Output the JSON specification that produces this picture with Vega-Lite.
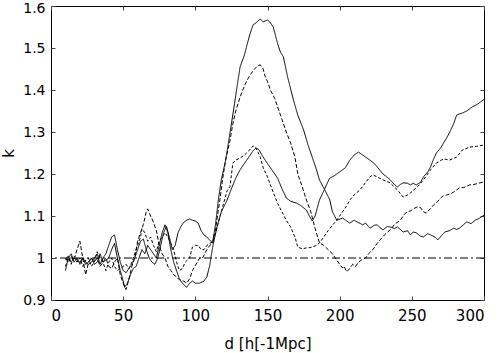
{
  "$schema": "https://vega.github.io/schema/vega-lite/v6.json",
  "width": 433,
  "height": 294,
  "autosize": {"type": "none"},
  "padding": {"left": 51, "top": 6, "right": 15, "bottom": 53},
  "background": "white",
  "config": {
    "view": {"stroke": "black", "strokeWidth": 1},
    "axis": {
      "grid": false,
      "domain": false,
      "tickSize": -4,
      "tickColor": "#444",
      "labelFont": "DejaVu Sans",
      "labelFontSize": 15,
      "labelColor": "black",
      "titleFont": "DejaVu Sans",
      "titleFontSize": 15,
      "titleFontWeight": "normal",
      "titleColor": "black"
    }
  },
  "datasets": {
    "curves": [
      {"series":"s1","d":10,"k":0.97},{"series":"s1","d":12,"k":1.0},{"series":"s1","d":14,"k":1.01},{"series":"s1","d":16,"k":0.99},{"series":"s1","d":18,"k":1.0},{"series":"s1","d":20,"k":0.985},{"series":"s1","d":22,"k":1.0},{"series":"s1","d":24,"k":0.99},{"series":"s1","d":26,"k":0.985},{"series":"s1","d":28,"k":0.99},{"series":"s1","d":30,"k":1.0},{"series":"s1","d":32,"k":1.01},{"series":"s1","d":34,"k":0.985},{"series":"s1","d":36,"k":1.0},{"series":"s1","d":38,"k":1.01},{"series":"s1","d":40,"k":1.03},{"series":"s1","d":42,"k":1.05},{"series":"s1","d":44,"k":1.055},{"series":"s1","d":46,"k":1.02},{"series":"s1","d":48,"k":0.99},{"series":"s1","d":50,"k":0.97},{"series":"s1","d":52,"k":0.965},{"series":"s1","d":54,"k":0.975},{"series":"s1","d":56,"k":0.985},{"series":"s1","d":58,"k":1.0},{"series":"s1","d":60,"k":1.02},{"series":"s1","d":62,"k":1.04},{"series":"s1","d":64,"k":1.045},{"series":"s1","d":66,"k":1.02},{"series":"s1","d":68,"k":1.0},{"series":"s1","d":70,"k":0.99},{"series":"s1","d":72,"k":0.985},{"series":"s1","d":74,"k":1.0},{"series":"s1","d":76,"k":1.03},{"series":"s1","d":78,"k":1.06},{"series":"s1","d":80,"k":1.075},{"series":"s1","d":82,"k":1.05},{"series":"s1","d":84,"k":1.02},{"series":"s1","d":86,"k":1.03},{"series":"s1","d":88,"k":1.06},{"series":"s1","d":90,"k":1.075},{"series":"s1","d":92,"k":1.085},{"series":"s1","d":94,"k":1.09},{"series":"s1","d":96,"k":1.093},{"series":"s1","d":98,"k":1.09},{"series":"s1","d":100,"k":1.088},{"series":"s1","d":102,"k":1.083},{"series":"s1","d":104,"k":1.065},{"series":"s1","d":106,"k":1.055},{"series":"s1","d":108,"k":1.05},{"series":"s1","d":110,"k":1.042},{"series":"s1","d":112,"k":1.038},{"series":"s1","d":114,"k":1.08},{"series":"s1","d":116,"k":1.14},{"series":"s1","d":118,"k":1.186},{"series":"s1","d":121,"k":1.233},{"series":"s1","d":124,"k":1.297},{"series":"s1","d":127,"k":1.364},{"series":"s1","d":129,"k":1.41},{"series":"s1","d":131,"k":1.455},{"series":"s1","d":134,"k":1.483},{"series":"s1","d":136,"k":1.51},{"series":"s1","d":138,"k":1.535},{"series":"s1","d":140,"k":1.555},{"series":"s1","d":142,"k":1.56},{"series":"s1","d":145,"k":1.569},{"series":"s1","d":147,"k":1.562},{"series":"s1","d":150,"k":1.567},{"series":"s1","d":152,"k":1.56},{"series":"s1","d":154,"k":1.55},{"series":"s1","d":157,"k":1.51},{"series":"s1","d":159,"k":1.49},{"series":"s1","d":161,"k":1.479},{"series":"s1","d":164,"k":1.43},{"series":"s1","d":168,"k":1.376},{"series":"s1","d":171,"k":1.34},{"series":"s1","d":175,"k":1.305},{"series":"s1","d":178,"k":1.27},{"series":"s1","d":181,"k":1.24},{"series":"s1","d":184,"k":1.21},{"series":"s1","d":186,"k":1.186},{"series":"s1","d":190,"k":1.16},{"series":"s1","d":193,"k":1.14},{"series":"s1","d":195,"k":1.11},{"series":"s1","d":198,"k":1.09},{"series":"s1","d":202,"k":1.095},{"series":"s1","d":205,"k":1.088},{"series":"s1","d":207,"k":1.083},{"series":"s1","d":210,"k":1.09},{"series":"s1","d":212,"k":1.086},{"series":"s1","d":216,"k":1.079},{"series":"s1","d":218,"k":1.083},{"series":"s1","d":221,"k":1.071},{"series":"s1","d":224,"k":1.078},{"series":"s1","d":226,"k":1.079},{"series":"s1","d":228,"k":1.072},{"series":"s1","d":230,"k":1.067},{"series":"s1","d":233,"k":1.075},{"series":"s1","d":235,"k":1.074},{"series":"s1","d":238,"k":1.07},{"series":"s1","d":240,"k":1.074},{"series":"s1","d":242,"k":1.068},{"series":"s1","d":244,"k":1.062},{"series":"s1","d":247,"k":1.065},{"series":"s1","d":249,"k":1.055},{"series":"s1","d":251,"k":1.062},{"series":"s1","d":253,"k":1.06},{"series":"s1","d":256,"k":1.052},{"series":"s1","d":258,"k":1.05},{"series":"s1","d":261,"k":1.058},{"series":"s1","d":263,"k":1.055},{"series":"s1","d":266,"k":1.05},{"series":"s1","d":268,"k":1.043},{"series":"s1","d":271,"k":1.055},{"series":"s1","d":273,"k":1.062},{"series":"s1","d":276,"k":1.065},{"series":"s1","d":279,"k":1.071},{"series":"s1","d":281,"k":1.068},{"series":"s1","d":283,"k":1.071},{"series":"s1","d":286,"k":1.08},{"series":"s1","d":288,"k":1.086},{"series":"s1","d":291,"k":1.082},{"series":"s1","d":294,"k":1.09},{"series":"s1","d":297,"k":1.095},{"series":"s1","d":300,"k":1.102},

      {"series":"s2","d":10,"k":0.995},{"series":"s2","d":12,"k":1.005},{"series":"s2","d":14,"k":0.99},{"series":"s2","d":16,"k":1.0},{"series":"s2","d":18,"k":0.995},{"series":"s2","d":20,"k":0.99},{"series":"s2","d":22,"k":1.0},{"series":"s2","d":24,"k":0.985},{"series":"s2","d":26,"k":0.99},{"series":"s2","d":28,"k":1.0},{"series":"s2","d":30,"k":0.985},{"series":"s2","d":32,"k":0.99},{"series":"s2","d":34,"k":1.01},{"series":"s2","d":36,"k":0.99},{"series":"s2","d":38,"k":0.995},{"series":"s2","d":40,"k":1.0},{"series":"s2","d":42,"k":1.02},{"series":"s2","d":44,"k":1.035},{"series":"s2","d":46,"k":1.0},{"series":"s2","d":48,"k":0.97},{"series":"s2","d":50,"k":0.945},{"series":"s2","d":51,"k":0.93},{"series":"s2","d":53,"k":0.94},{"series":"s2","d":55,"k":0.96},{"series":"s2","d":57,"k":0.975},{"series":"s2","d":59,"k":0.98},{"series":"s2","d":61,"k":1.0},{"series":"s2","d":63,"k":1.02},{"series":"s2","d":65,"k":1.01},{"series":"s2","d":67,"k":1.03},{"series":"s2","d":69,"k":1.02},{"series":"s2","d":71,"k":1.01},{"series":"s2","d":73,"k":1.0},{"series":"s2","d":75,"k":1.03},{"series":"s2","d":77,"k":1.06},{"series":"s2","d":79,"k":1.079},{"series":"s2","d":81,"k":1.06},{"series":"s2","d":83,"k":1.02},{"series":"s2","d":85,"k":0.99},{"series":"s2","d":87,"k":0.97},{"series":"s2","d":89,"k":0.95},{"series":"s2","d":91,"k":0.94},{"series":"s2","d":94,"k":0.93},{"series":"s2","d":96,"k":0.94},{"series":"s2","d":98,"k":0.945},{"series":"s2","d":100,"k":0.94},{"series":"s2","d":103,"k":0.94},{"series":"s2","d":106,"k":0.945},{"series":"s2","d":108,"k":0.955},{"series":"s2","d":110,"k":0.983},{"series":"s2","d":112,"k":1.026},{"series":"s2","d":115,"k":1.074},{"series":"s2","d":118,"k":1.11},{"series":"s2","d":122,"k":1.138},{"series":"s2","d":125,"k":1.165},{"series":"s2","d":128,"k":1.19},{"series":"s2","d":131,"k":1.21},{"series":"s2","d":134,"k":1.225},{"series":"s2","d":137,"k":1.24},{"series":"s2","d":140,"k":1.255},{"series":"s2","d":142,"k":1.262},{"series":"s2","d":144,"k":1.258},{"series":"s2","d":147,"k":1.24},{"series":"s2","d":150,"k":1.225},{"series":"s2","d":153,"k":1.21},{"series":"s2","d":157,"k":1.19},{"series":"s2","d":160,"k":1.165},{"series":"s2","d":163,"k":1.143},{"series":"s2","d":166,"k":1.135},{"series":"s2","d":170,"k":1.131},{"series":"s2","d":173,"k":1.125},{"series":"s2","d":177,"k":1.114},{"series":"s2","d":179,"k":1.1},{"series":"s2","d":181,"k":1.088},{"series":"s2","d":183,"k":1.1},{"series":"s2","d":186,"k":1.138},{"series":"s2","d":189,"k":1.16},{"series":"s2","d":193,"k":1.19},{"series":"s2","d":196,"k":1.195},{"series":"s2","d":200,"k":1.205},{"series":"s2","d":204,"k":1.215},{"series":"s2","d":207,"k":1.233},{"series":"s2","d":210,"k":1.245},{"series":"s2","d":213,"k":1.252},{"series":"s2","d":216,"k":1.245},{"series":"s2","d":219,"k":1.238},{"series":"s2","d":221,"k":1.233},{"series":"s2","d":224,"k":1.225},{"series":"s2","d":226,"k":1.217},{"series":"s2","d":230,"k":1.2},{"series":"s2","d":232,"k":1.195},{"series":"s2","d":235,"k":1.186},{"series":"s2","d":238,"k":1.175},{"series":"s2","d":240,"k":1.169},{"series":"s2","d":242,"k":1.175},{"series":"s2","d":244,"k":1.179},{"series":"s2","d":247,"k":1.178},{"series":"s2","d":249,"k":1.174},{"series":"s2","d":251,"k":1.178},{"series":"s2","d":253,"k":1.174},{"series":"s2","d":256,"k":1.18},{"series":"s2","d":258,"k":1.193},{"series":"s2","d":261,"k":1.205},{"series":"s2","d":263,"k":1.217},{"series":"s2","d":265,"k":1.235},{"series":"s2","d":267,"k":1.25},{"series":"s2","d":270,"k":1.262},{"series":"s2","d":272,"k":1.274},{"series":"s2","d":274,"k":1.285},{"series":"s2","d":276,"k":1.298},{"series":"s2","d":279,"k":1.32},{"series":"s2","d":281,"k":1.34},{"series":"s2","d":283,"k":1.343},{"series":"s2","d":285,"k":1.345},{"series":"s2","d":288,"k":1.35},{"series":"s2","d":292,"k":1.36},{"series":"s2","d":295,"k":1.365},{"series":"s2","d":297,"k":1.37},{"series":"s2","d":300,"k":1.378},

      {"series":"d1","d":10,"k":1.0},{"series":"d1","d":12,"k":0.99},{"series":"d1","d":14,"k":1.005},{"series":"d1","d":16,"k":0.995},{"series":"d1","d":18,"k":1.02},{"series":"d1","d":20,"k":1.04},{"series":"d1","d":22,"k":1.0},{"series":"d1","d":24,"k":0.96},{"series":"d1","d":26,"k":0.99},{"series":"d1","d":28,"k":1.0},{"series":"d1","d":30,"k":0.99},{"series":"d1","d":32,"k":1.0},{"series":"d1","d":34,"k":0.98},{"series":"d1","d":36,"k":0.99},{"series":"d1","d":38,"k":1.0},{"series":"d1","d":40,"k":0.98},{"series":"d1","d":42,"k":0.975},{"series":"d1","d":44,"k":0.99},{"series":"d1","d":46,"k":1.0},{"series":"d1","d":48,"k":0.96},{"series":"d1","d":50,"k":0.94},{"series":"d1","d":52,"k":0.925},{"series":"d1","d":54,"k":0.95},{"series":"d1","d":56,"k":0.98},{"series":"d1","d":58,"k":1.0},{"series":"d1","d":60,"k":1.04},{"series":"d1","d":62,"k":1.06},{"series":"d1","d":64,"k":1.08},{"series":"d1","d":66,"k":1.11},{"series":"d1","d":67,"k":1.117},{"series":"d1","d":69,"k":1.1},{"series":"d1","d":71,"k":1.085},{"series":"d1","d":73,"k":1.065},{"series":"d1","d":75,"k":1.03},{"series":"d1","d":77,"k":1.01},{"series":"d1","d":79,"k":1.0},{"series":"d1","d":81,"k":0.98},{"series":"d1","d":83,"k":0.97},{"series":"d1","d":85,"k":0.96},{"series":"d1","d":87,"k":0.955},{"series":"d1","d":89,"k":0.948},{"series":"d1","d":92,"k":0.945},{"series":"d1","d":94,"k":0.94},{"series":"d1","d":96,"k":0.95},{"series":"d1","d":98,"k":0.97},{"series":"d1","d":101,"k":0.988},{"series":"d1","d":103,"k":1.0},{"series":"d1","d":105,"k":1.0},{"series":"d1","d":108,"k":1.02},{"series":"d1","d":110,"k":1.03},{"series":"d1","d":112,"k":1.035},{"series":"d1","d":114,"k":1.07},{"series":"d1","d":117,"k":1.138},{"series":"d1","d":119,"k":1.19},{"series":"d1","d":121,"k":1.233},{"series":"d1","d":124,"k":1.28},{"series":"d1","d":126,"k":1.32},{"series":"d1","d":128,"k":1.35},{"series":"d1","d":131,"k":1.383},{"series":"d1","d":134,"k":1.41},{"series":"d1","d":136,"k":1.424},{"series":"d1","d":138,"k":1.436},{"series":"d1","d":141,"k":1.45},{"series":"d1","d":143,"k":1.457},{"series":"d1","d":145,"k":1.46},{"series":"d1","d":147,"k":1.45},{"series":"d1","d":148,"k":1.436},{"series":"d1","d":150,"k":1.42},{"series":"d1","d":152,"k":1.4},{"series":"d1","d":155,"k":1.38},{"series":"d1","d":157,"k":1.36},{"series":"d1","d":159,"k":1.34},{"series":"d1","d":161,"k":1.32},{"series":"d1","d":163,"k":1.3},{"series":"d1","d":166,"k":1.274},{"series":"d1","d":169,"k":1.24},{"series":"d1","d":171,"k":1.2},{"series":"d1","d":174,"k":1.17},{"series":"d1","d":177,"k":1.138},{"series":"d1","d":180,"k":1.11},{"series":"d1","d":183,"k":1.07},{"series":"d1","d":186,"k":1.036},{"series":"d1","d":189,"k":1.03},{"series":"d1","d":192,"k":1.02},{"series":"d1","d":195,"k":1.01},{"series":"d1","d":197,"k":1.0},{"series":"d1","d":200,"k":0.985},{"series":"d1","d":202,"k":0.976},{"series":"d1","d":203,"k":0.98},{"series":"d1","d":205,"k":0.967},{"series":"d1","d":207,"k":0.975},{"series":"d1","d":209,"k":0.985},{"series":"d1","d":211,"k":0.98},{"series":"d1","d":213,"k":0.99},{"series":"d1","d":215,"k":0.995},{"series":"d1","d":218,"k":1.0},{"series":"d1","d":220,"k":1.01},{"series":"d1","d":223,"k":1.02},{"series":"d1","d":226,"k":1.035},{"series":"d1","d":228,"k":1.043},{"series":"d1","d":231,"k":1.055},{"series":"d1","d":235,"k":1.067},{"series":"d1","d":238,"k":1.08},{"series":"d1","d":242,"k":1.09},{"series":"d1","d":245,"k":1.105},{"series":"d1","d":247,"k":1.11},{"series":"d1","d":249,"k":1.112},{"series":"d1","d":251,"k":1.117},{"series":"d1","d":254,"k":1.122},{"series":"d1","d":256,"k":1.12},{"series":"d1","d":258,"k":1.11},{"series":"d1","d":260,"k":1.107},{"series":"d1","d":263,"k":1.118},{"series":"d1","d":265,"k":1.126},{"series":"d1","d":268,"k":1.135},{"series":"d1","d":270,"k":1.143},{"series":"d1","d":272,"k":1.148},{"series":"d1","d":274,"k":1.15},{"series":"d1","d":277,"k":1.153},{"series":"d1","d":279,"k":1.157},{"series":"d1","d":281,"k":1.162},{"series":"d1","d":283,"k":1.167},{"series":"d1","d":286,"k":1.168},{"series":"d1","d":290,"k":1.174},{"series":"d1","d":293,"k":1.175},{"series":"d1","d":296,"k":1.178},{"series":"d1","d":300,"k":1.181},

      {"series":"d2","d":10,"k":0.98},{"series":"d2","d":12,"k":1.0},{"series":"d2","d":14,"k":0.985},{"series":"d2","d":16,"k":1.005},{"series":"d2","d":18,"k":0.99},{"series":"d2","d":20,"k":1.0},{"series":"d2","d":22,"k":0.98},{"series":"d2","d":24,"k":0.995},{"series":"d2","d":26,"k":1.0},{"series":"d2","d":28,"k":0.98},{"series":"d2","d":30,"k":0.99},{"series":"d2","d":32,"k":1.015},{"series":"d2","d":34,"k":1.0},{"series":"d2","d":36,"k":0.99},{"series":"d2","d":38,"k":0.97},{"series":"d2","d":40,"k":0.99},{"series":"d2","d":42,"k":1.0},{"series":"d2","d":44,"k":0.98},{"series":"d2","d":46,"k":0.97},{"series":"d2","d":48,"k":0.975},{"series":"d2","d":50,"k":0.98},{"series":"d2","d":52,"k":0.985},{"series":"d2","d":54,"k":0.975},{"series":"d2","d":56,"k":0.99},{"series":"d2","d":58,"k":1.01},{"series":"d2","d":60,"k":1.03},{"series":"d2","d":62,"k":1.05},{"series":"d2","d":63,"k":1.07},{"series":"d2","d":65,"k":1.06},{"series":"d2","d":67,"k":1.04},{"series":"d2","d":69,"k":1.05},{"series":"d2","d":71,"k":1.03},{"series":"d2","d":73,"k":1.015},{"series":"d2","d":75,"k":1.04},{"series":"d2","d":77,"k":1.05},{"series":"d2","d":79,"k":1.06},{"series":"d2","d":81,"k":1.05},{"series":"d2","d":83,"k":1.035},{"series":"d2","d":85,"k":1.02},{"series":"d2","d":87,"k":0.99},{"series":"d2","d":89,"k":0.97},{"series":"d2","d":91,"k":0.975},{"series":"d2","d":93,"k":0.99},{"series":"d2","d":96,"k":1.0},{"series":"d2","d":98,"k":1.026},{"series":"d2","d":100,"k":1.03},{"series":"d2","d":102,"k":1.03},{"series":"d2","d":104,"k":1.02},{"series":"d2","d":106,"k":1.02},{"series":"d2","d":108,"k":1.03},{"series":"d2","d":110,"k":1.035},{"series":"d2","d":112,"k":1.038},{"series":"d2","d":114,"k":1.06},{"series":"d2","d":117,"k":1.098},{"series":"d2","d":120,"k":1.135},{"series":"d2","d":122,"k":1.16},{"series":"d2","d":124,"k":1.17},{"series":"d2","d":126,"k":1.226},{"series":"d2","d":128,"k":1.233},{"series":"d2","d":131,"k":1.238},{"series":"d2","d":134,"k":1.245},{"series":"d2","d":137,"k":1.255},{"series":"d2","d":140,"k":1.267},{"series":"d2","d":142,"k":1.262},{"series":"d2","d":145,"k":1.24},{"series":"d2","d":147,"k":1.215},{"series":"d2","d":150,"k":1.193},{"series":"d2","d":153,"k":1.165},{"series":"d2","d":157,"k":1.13},{"series":"d2","d":160,"k":1.11},{"series":"d2","d":163,"k":1.09},{"series":"d2","d":166,"k":1.074},{"series":"d2","d":169,"k":1.05},{"series":"d2","d":171,"k":1.026},{"series":"d2","d":174,"k":1.022},{"series":"d2","d":177,"k":1.024},{"series":"d2","d":180,"k":1.025},{"series":"d2","d":184,"k":1.03},{"series":"d2","d":186,"k":1.036},{"series":"d2","d":189,"k":1.05},{"series":"d2","d":192,"k":1.065},{"series":"d2","d":195,"k":1.078},{"series":"d2","d":198,"k":1.09},{"series":"d2","d":201,"k":1.105},{"series":"d2","d":205,"k":1.125},{"series":"d2","d":207,"k":1.138},{"series":"d2","d":210,"k":1.15},{"series":"d2","d":214,"k":1.162},{"series":"d2","d":218,"k":1.18},{"series":"d2","d":221,"k":1.193},{"series":"d2","d":223,"k":1.198},{"series":"d2","d":226,"k":1.193},{"series":"d2","d":230,"k":1.186},{"series":"d2","d":235,"k":1.179},{"series":"d2","d":240,"k":1.162},{"series":"d2","d":244,"k":1.145},{"series":"d2","d":247,"k":1.15},{"series":"d2","d":249,"k":1.155},{"series":"d2","d":254,"k":1.17},{"series":"d2","d":258,"k":1.186},{"series":"d2","d":263,"k":1.21},{"series":"d2","d":267,"k":1.226},{"series":"d2","d":272,"k":1.236},{"series":"d2","d":276,"k":1.233},{"series":"d2","d":281,"k":1.24},{"series":"d2","d":285,"k":1.257},{"series":"d2","d":290,"k":1.264},{"series":"d2","d":295,"k":1.266},{"series":"d2","d":300,"k":1.269}
    ],
    "ref": [{"k": 1}]
  },
  "layer": [
    {
      "data": {"name": "ref"},
      "mark": {"type": "rule", "color": "black", "strokeWidth": 1, "strokeDash": [8, 3, 2, 3]},
      "encoding": {
        "y": {"field": "k", "type": "quantitative", "scale": {"domain": [0.9, 1.6], "nice": false},
          "axis": {"orient": "right", "labels": false, "title": null, "values": [0.9,1,1.1,1.2,1.3,1.4,1.5,1.6]}}
      }
    },
    {
      "data": {"name": "curves"},
      "mark": {"type": "line", "color": "black", "strokeWidth": 1, "clip": true},
      "encoding": {
        "x": {"field": "d", "type": "quantitative", "scale": {"domain": [0, 300], "nice": false},
          "axis": {"orient": "bottom", "title": "d [h[-1Mpc]", "values": [0,50,100,150,200,250,300], "labelPadding": 12,
            "titleX": 216.5, "titleY": 43, "titleBaseline": "middle", "titleAlign": "center"}},
        "y": {"field": "k", "type": "quantitative", "scale": {"domain": [0.9, 1.6], "nice": false},
          "axis": {"orient": "left", "title": "k", "values": [0.9,1,1.1,1.2,1.3,1.4,1.5,1.6], "format": "~g", "labelPadding": 10,
            "labelFontSize": 14,
            "labelOffset": {"condition": {"test": "datum.value >= 1.59", "value": 2.5}, "value": 0.5},
            "titleX": -43, "titleY": 147, "titleAngle": -90, "titleBaseline": "middle", "titleAlign": "center"}},
        "detail": {"field": "series", "type": "nominal"},
        "strokeDash": {"field": "series", "type": "nominal",
          "scale": {"domain": ["s1", "s2", "d1", "d2"], "range": [[1, 0], [1, 0], [4, 2], [3, 2]]}, "legend": null}
      }
    },
    {
      "data": {"name": "ref"},
      "mark": {"type": "point", "opacity": 0},
      "encoding": {
        "x": {"datum": 0, "type": "quantitative", "scale": {"domain": [0, 300], "nice": false},
          "axis": {"orient": "top", "labels": false, "title": null, "values": [0,50,100,150,200,250,300]}}
      }
    }
  ],
  "resolve": {"axis": {"x": "independent", "y": "independent"}}
}
